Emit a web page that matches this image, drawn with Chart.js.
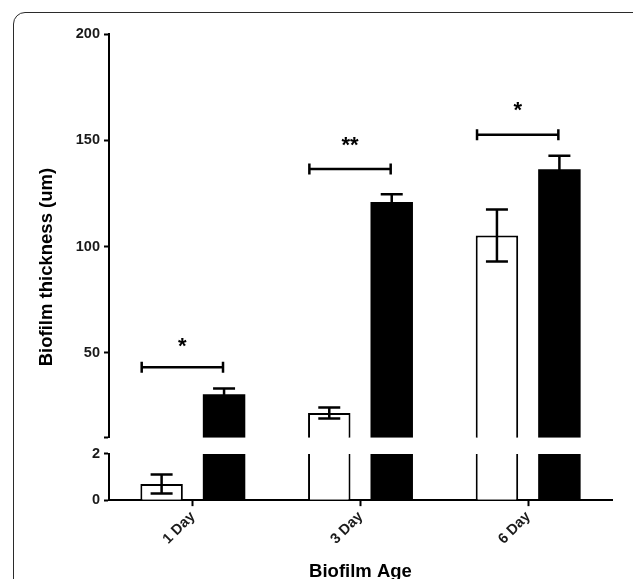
<!DOCTYPE html>
<html>
<head>
<meta charset="utf-8">
<script src="https://cdn.jsdelivr.net/npm/chart.js@4"></script>
<style>
    html, body { margin: 0; padding: 0; background: #fff; overflow: hidden; }
    body { width: 633px; height: 579px; position: relative; }
    #frame { position: absolute; left: 13px; top: 12px; width: 700px; height: 700px;
             border: 1.5px solid #2b2b2b; border-radius: 12px; box-sizing: border-box; }
    #chartBiofilm { position: absolute; left: 0; top: 0; }
</style>
</head>
<body>
<div id="frame"></div>
<canvas id="chartBiofilm" width="633" height="600"></canvas>
<script>
// data
var ages = ['1 Day', '3 Day', '6 Day'];
var openMeans = [0.7, 21.7, 105.2];
var openErr = [0.41, 2.6, 12.2];
var filledMeans = [30.5, 121, 136.4];
var filledErr = [2.7, 3.6, 6.3];
var upperTicks = [10, 50, 100, 150, 200];
var lowerTicks = [0, 2];
var sigLevel = [43.2, 136.5, 152.6];
var sigStars = ['*', '**', '*'];
var starLevel = [55.8, 150.5, 166.9];

var ink = '#000';
var fontFamily = 'Arial, "Liberation Sans", sans-serif';
Chart.defaults.font.family = fontFamily;

// keep each bar set inside its own piece of the broken axis
var brokenAxisClip = {
    id: 'brokenAxisClip',
    beforeDatasetDraw: function (chart, args) {
        var s = args.meta.yScale, a = chart.chartArea, ctx = chart.ctx;
        ctx.save();
        ctx.beginPath();
        ctx.rect(a.left - 5, s.top, a.right - a.left + 10, s.bottom - s.top);
        ctx.clip();
    },
    afterDatasetDraw: function (chart) {
        chart.ctx.restore();
    }
};

// error bars, significance brackets and stars
var marks = {
    id: 'marks',
    afterDatasetsDraw: function (chart) {
        var ctx = chart.ctx, xs = chart.scales.x, yUp = chart.scales.y;
        ctx.save();
        ctx.strokeStyle = ink;
        ctx.fillStyle = ink;
        ctx.lineCap = 'butt';

        chart.data.datasets.forEach(function (ds, di) {
            var meta = chart.getDatasetMeta(di);
            var ys = meta.yScale;
            meta.data.forEach(function (bar, i) {
                var v = ds.data[i], e = ds.errors[i];
                if (v + e > ys.max || v - e < ys.min) return;
                var top = ys.getPixelForValue(v + e);
                var bot = ys.getPixelForValue(v - e);
                ctx.lineWidth = 2.5;
                ctx.beginPath();
                ctx.moveTo(bar.x, top);
                ctx.lineTo(bar.x, bot);
                ctx.moveTo(bar.x - 11, top);
                ctx.lineTo(bar.x + 11, top);
                ctx.moveTo(bar.x - 11, bot);
                ctx.lineTo(bar.x + 11, bot);
                ctx.stroke();
            });
        });

        ages.forEach(function (age, i) {
            var y = yUp.getPixelForValue(sigLevel[i]);
            var x1 = xs.getPixelForValue(i - 0.305);
            var x2 = xs.getPixelForValue(i + 0.18);
            ctx.lineWidth = 2.5;
            ctx.beginPath();
            ctx.moveTo(x1, y);
            ctx.lineTo(x2, y);
            ctx.moveTo(x1, y - 5.5);
            ctx.lineTo(x1, y + 5.5);
            ctx.moveTo(x2, y - 5.5);
            ctx.lineTo(x2, y + 5.5);
            ctx.stroke();

            var size = 22;
            ctx.font = 'bold ' + size + 'px ' + fontFamily;
            ctx.textAlign = 'center';
            ctx.textBaseline = 'alphabetic';
            ctx.fillText(sigStars[i], (x1 + x2) / 2, yUp.getPixelForValue(starLevel[i]) + 0.57 * size);
        });
        ctx.restore();
    }
};

var tickFont = { family: fontFamily, size: 14.5, weight: 'bold' };
var titleFont = { family: fontFamily, size: 18.5, weight: 'bold' };

function valueAxis(min, max, weight, ticks) {
    return {
        type: 'linear',
        position: 'left',
        stack: 'thickness',
        stackWeight: weight,
        stacked: false,
        min: min,
        max: max,
        afterBuildTicks: function (s) {
            s.ticks = ticks.map(function (v) { return { value: v }; });
        },
        afterFit: function (s) { s.width = 49; },
        grid: { drawOnChartArea: false, tickLength: 5, tickWidth: 2, tickColor: ink },
        border: { color: ink, width: 2 },
        ticks: {
            color: '#1a1a1a',
            font: tickFont,
            padding: 4,
            callback: function (v) { return v === 10 ? '' : v; }
        }
    };
}

var ctx = document.getElementById('chartBiofilm').getContext('2d');
var chart = new Chart(ctx, {
    type: 'bar',
    data: {
        labels: ages,
        datasets: [
            { label: 'Open (low)', data: openMeans, errors: openErr, stack: 'open', yAxisID: 'yLow',
              backgroundColor: '#fff', borderColor: ink, borderWidth: 2 },
            { label: 'Filled (low)', data: filledMeans, errors: filledErr, stack: 'filled', yAxisID: 'yLow',
              backgroundColor: '#000', borderColor: '#000', borderWidth: 0 },
            { label: 'Open', data: openMeans, errors: openErr, stack: 'open', yAxisID: 'y',
              backgroundColor: '#fff', borderColor: ink, borderWidth: 2 },
            { label: 'Filled', data: filledMeans, errors: filledErr, stack: 'filled', yAxisID: 'y',
              backgroundColor: '#000', borderColor: '#000', borderWidth: 0 }
        ]
    },
    options: {
        responsive: false,
        animation: false,
        categoryPercentage: 0.745,
        barPercentage: 0.68,
        layout: { padding: { left: 32, right: 21, top: 34, bottom: 14 } },
        plugins: { legend: { display: false }, tooltip: { enabled: false } },
        scales: {
            x: {
                offset: true,
                grid: { offset: false, drawOnChartArea: false, tickLength: 6, tickWidth: 2, tickColor: ink },
                border: { color: ink, width: 2 },
                ticks: { color: '#1a1a1a', font: tickFont, minRotation: 45, maxRotation: 45, padding: 2 },
                title: { display: true, text: 'Biofilm Age', color: ink, font: titleFont, padding: { top: 11, bottom: 3 } }
            },
            yLow: valueAxis(0, 2, 46, lowerTicks),
            yGap: { type: 'linear', position: 'left', stack: 'thickness', stackWeight: 16, display: false },
            y: valueAxis(10, 200, 402, upperTicks),
            yTitle: {
                type: 'linear',
                position: 'left',
                afterFit: function (s) { s.width = 28; },
                ticks: { display: false },
                grid: { display: false },
                border: { display: false },
                title: { display: true, text: 'Biofilm thickness (um)', color: ink, font: titleFont, padding: { top: 4, bottom: 4 } }
            }
        }
    },
    plugins: [brokenAxisClip, marks]
});
</script>
</body>
</html>
